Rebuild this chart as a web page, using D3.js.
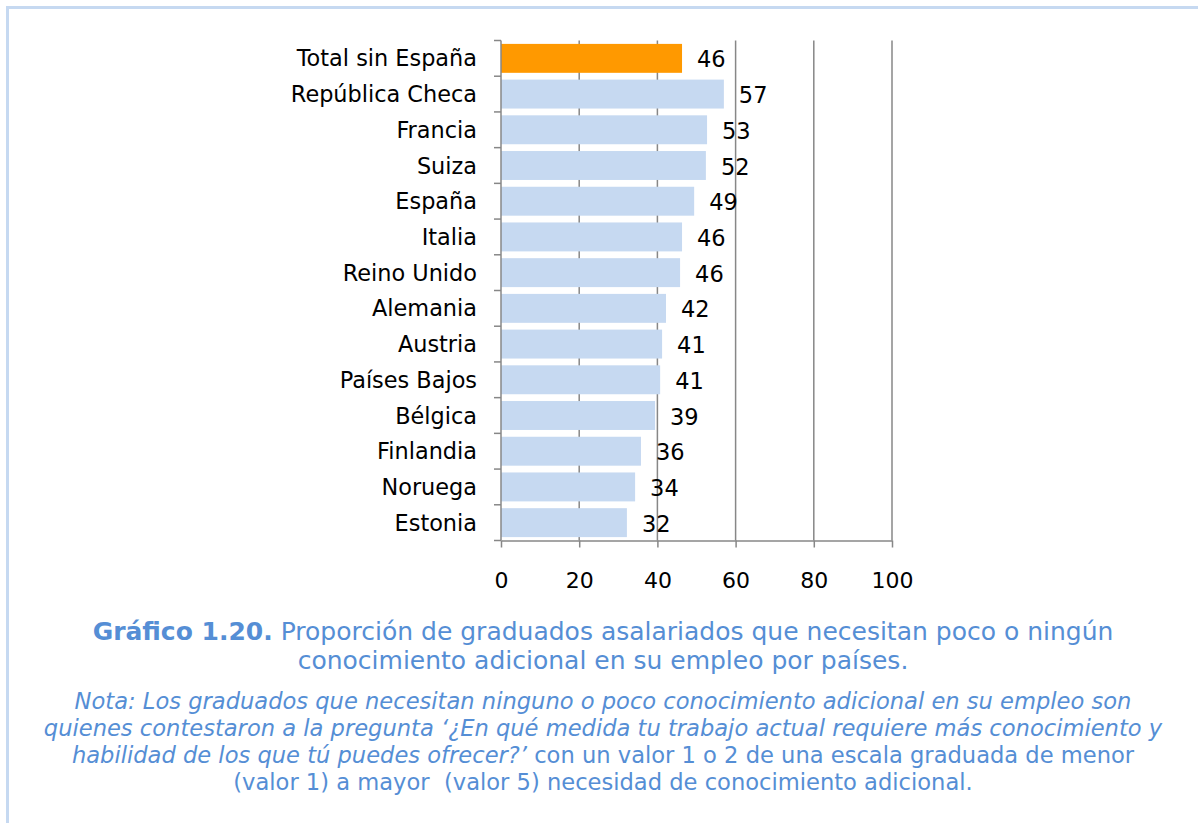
<!DOCTYPE html>
<html>
<head>
<meta charset="utf-8">
<script src="https://cdn.jsdelivr.net/npm/d3@7"></script>
<style>
  body { margin: 0; background: #fff; }
  svg { display: block; font-family: "DejaVu Sans", Verdana, sans-serif; }
  .grid line { stroke: #878787; stroke-width: 1.5; }
</style>
</head>
<body>
<div id="chart"></div>
<script>
var categories = ["Total sin España", "República Checa", "Francia", "Suiza", "España", "Italia",
  "Reino Unido", "Alemania", "Austria", "Países Bajos", "Bélgica", "Finlandia", "Noruega", "Estonia"];
var values = [46.3, 57.0, 52.7, 52.4, 49.4, 46.3, 45.8, 42.2, 41.2, 40.7, 39.4, 35.8, 34.3, 32.2];
var xTicks = [0, 20, 40, 60, 80, 100];
var captionLines = [
  [{t: "Gráfico 1.20.", b: true}, {t: " Proporción de graduados asalariados que necesitan poco o ningún"}],
  [{t: "conocimiento adicional en su empleo por países."}]
];
var noteLines = [
  [{t: "Nota: Los graduados que necesitan ninguno o poco conocimiento adicional en su empleo son", i: true}],
  [{t: "quienes contestaron a la pregunta ‘¿En qué medida tu trabajo actual requiere más conocimiento y", i: true}],
  [{t: "habilidad de los que tú puedes ofrecer?’", i: true}, {t: " con un valor 1 o 2 de una escala graduada de menor"}],
  [{t: "(valor 1) a mayor  (valor 5) necesidad de conocimiento adicional."}]
];

var width = 1198, height = 823;
var svg = d3.select("#chart").append("svg")
    .attr("width", width)
    .attr("height", height);

// frame
svg.append("rect")
    .attr("x", 7.5).attr("y", 7.5)
    .attr("width", 1200).attr("height", 830)
    .attr("fill", "none")
    .attr("stroke", "#c6d9f1")
    .attr("stroke-width", 3);

var x = d3.scaleLinear().domain([0, 100]).range([501, 892]);
var y = d3.scaleBand().domain(categories).range([40.5, 540.5]).paddingInner(0.19).paddingOuter(0.095);

// vertical grid lines
svg.append("g").attr("class", "grid")
  .selectAll("line")
  .data(xTicks.slice(1))
  .enter().append("line")
    .attr("x1", function(d) { return x(d); })
    .attr("x2", function(d) { return x(d); })
    .attr("y1", 40.5)
    .attr("y2", 540.5);

// bars
svg.append("g").selectAll("rect")
  .data(values)
  .enter().append("rect")
    .attr("x", x(0))
    .attr("y", function(d, i) { return y(categories[i]); })
    .attr("width", function(d) { return x(d) - x(0); })
    .attr("height", y.bandwidth())
    .attr("fill", function(d, i) { return i == 0 ? "#ff9900" : "#c6d9f1"; });

// value labels
svg.append("g").selectAll("text")
  .data(values)
  .enter().append("text")
    .attr("x", function(d) { return x(d) + 15; })
    .attr("y", function(d, i) { return y(categories[i]) + y.bandwidth() / 2; })
    .attr("dy", "0.4em")
    .attr("font-size", 22.5)
    .attr("fill", "#000")
    .text(function(d) { return Math.round(d); });

// x axis
var xAxis = svg.append("g")
    .attr("transform", "translate(0,540.5)")
    .call(d3.axisBottom(x).tickValues(xTicks).tickSize(7).tickPadding(25).tickSizeOuter(0));
xAxis.select(".domain").attr("stroke", "#878787").attr("stroke-width", 1.5);
xAxis.selectAll(".tick line").attr("stroke", "#878787").attr("stroke-width", 1.5);
xAxis.selectAll(".tick text").attr("font-size", 22).attr("fill", "#000").attr("font-family", "DejaVu Sans, Verdana, sans-serif");

// y axis
var yEdges = d3.range(categories.length + 1).map(function(i) { return 40.5 + i * (500 / categories.length); });
var yAxis = svg.append("g");
yAxis.append("line")
    .attr("x1", x(0)).attr("x2", x(0))
    .attr("y1", 40.5).attr("y2", 540.5)
    .attr("stroke", "#878787").attr("stroke-width", 1.5);
yAxis.selectAll(".tk")
  .data(yEdges)
  .enter().append("line")
    .attr("x1", x(0) - 7).attr("x2", x(0))
    .attr("y1", function(d) { return d; })
    .attr("y2", function(d) { return d; })
    .attr("stroke", "#878787").attr("stroke-width", 1.5);
yAxis.selectAll("text")
  .data(categories)
  .enter().append("text")
    .attr("x", 477)
    .attr("y", function(d) { return y(d) + y.bandwidth() / 2; })
    .attr("dy", "0.36em")
    .attr("text-anchor", "end")
    .attr("font-size", 22.4)
    .attr("fill", "#000")
    .text(function(d) { return d; });

// caption
function writeLines(lines, y0, lh, size) {
  lines.forEach(function(parts, k) {
    var t = svg.append("text")
        .attr("x", 603)
        .attr("y", y0 + k * lh)
        .attr("text-anchor", "middle")
        .attr("font-size", size)
        .attr("fill", "#558ed5")
        .style("white-space", "pre");
    parts.forEach(function(p) {
      t.append("tspan")
        .attr("font-weight", p.b ? "bold" : null)
        .attr("font-style", p.i ? "italic" : null)
        .text(p.t);
    });
  });
}
writeLines(captionLines, 640, 29, 25);
writeLines(noteLines, 709, 27, 22.6);
</script>
</body>
</html>
